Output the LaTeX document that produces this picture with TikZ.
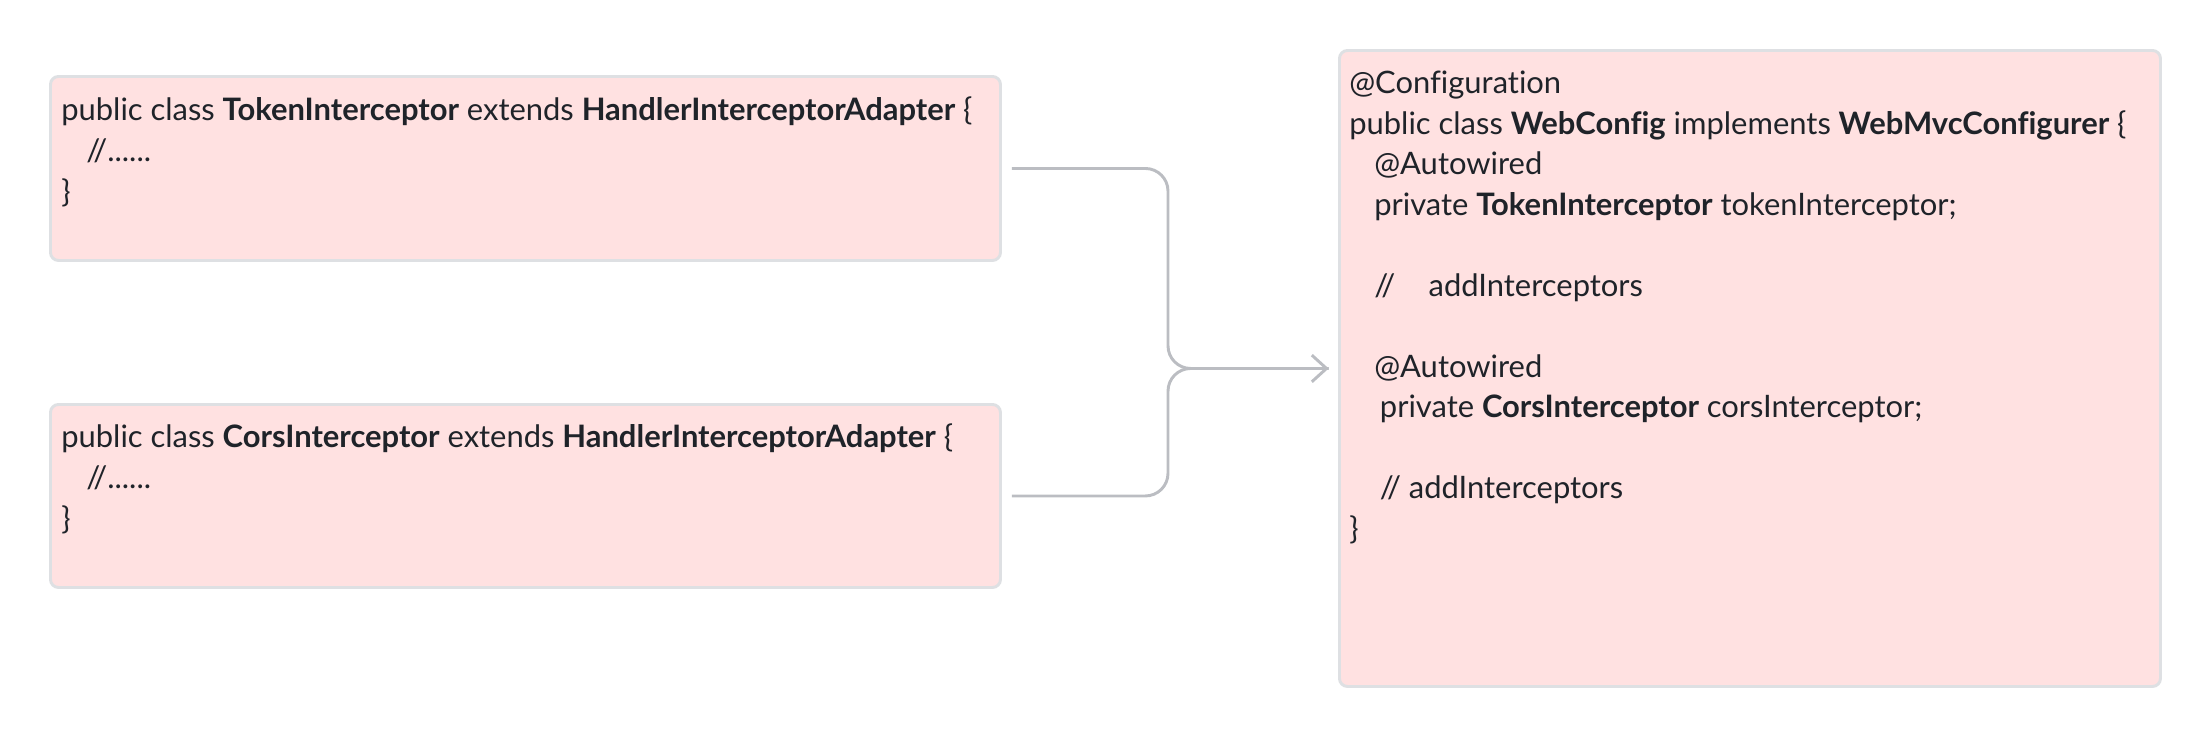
\documentclass[tikz,border=0pt]{standalone}
\usepackage{fontspec}
\setmainfont{Lato}[Ligatures=NoCommon]
\usetikzlibrary{arrows.meta,calc}
\definecolor{boxfill}{HTML}{FFE1E1}
\definecolor{boxline}{HTML}{DEE0E3}
\definecolor{conn}{HTML}{BBBDC2}
\definecolor{txt}{HTML}{1F2329}
\tikzset{
  box/.style={draw=boxline, fill=boxfill, line width=2.2pt, rounded corners=6pt, anchor=north west, inner sep=0pt},
  code/.style={anchor=base west, align=left, inner sep=0pt, text=txt, font=\fontsize{23.2}{30.4}\selectfont},
  conn/.style={draw=conn, line width=2.2pt, rounded corners=17pt},
  tip/.style={-{Straight Barb[length=11pt,width=20pt,line width=2.2pt]}}
}
\newcommand{\ind}[1]{\hspace*{#1pt}}
\begin{document}
\begin{tikzpicture}[x=0.75pt,y=-0.75pt]
\path[use as bounding box] (0,0) rectangle (2210,736);
% boxes
\node[box, minimum width=712.5pt, minimum height=138pt] (b1) at (49,75) {};
\node[box, minimum width=712.5pt, minimum height=137.25pt] (b2) at (49,403) {};
\node[box, minimum width=615.75pt, minimum height=477pt] (b3) at (1338,49) {};
% texts (base anchor = baseline of the last line)
\node[code] (t1) at (61,202) {public class \textbf{TokenInterceptor} extends \textbf{HandlerInterceptorAdapter} \{\\
\ind{18.75}//......\\
\}};
\node[code] (t2) at (61,529) {public class \textbf{CorsInterceptor} extends \textbf{HandlerInterceptorAdapter} \{\\
\ind{18.75}//......\\
\}};
\node[code] (t3) at (1349,539.5) {@Configuration\\
public class \textbf{WebConfig} implements \textbf{WebMvcConfigurer} \{\\
\ind{18.75}@Autowired\\
\ind{18.75}private \textbf{TokenInterceptor} tokenInterceptor;\\[30.4pt]
\ind{18.75}//\ind{25}addInterceptors\\[30.4pt]
\ind{18.75}@Autowired\\
\ind{23}private \textbf{CorsInterceptor} corsInterceptor;\\[30.4pt]
\ind{23}// addInterceptors\\
\}};
% connectors
\coordinate (s1) at ($(b1.east)+(7.5pt,0)$);
\coordinate (s2) at ($(b2.east)+(7.5pt,0)$);
\coordinate (e) at ($(b3.west)+(-7pt,0)$);
\coordinate (m) at (1168,0 |- e);
\draw[conn] (s1) -- (s1 -| m) -- (m) -- (e);
\draw[conn] (s2) -- (s2 -| m) -- (m) -- (e);
\draw[draw=conn, line width=2.2pt, tip] ($(e)+(-5,0)$) -- (e);
\end{tikzpicture}
\end{document}
